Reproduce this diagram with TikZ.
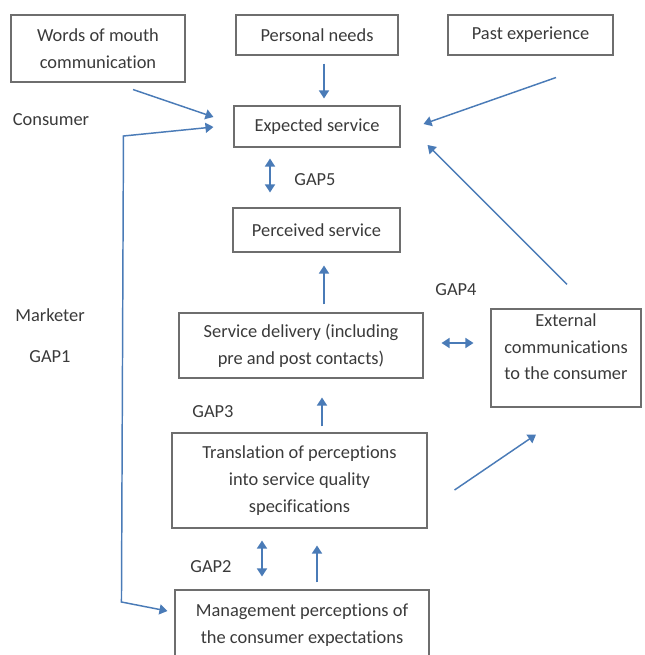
\documentclass[tikz,border=0pt]{standalone}
\usepackage{fontspec}
\setmainfont{Carlito}[Ligatures=NoCommon]
\usepackage{tikz}
\usetikzlibrary{arrows.meta}
\definecolor{arrowblue}{HTML}{4A7BB7}
\definecolor{boxgray}{HTML}{6E6E6E}
\definecolor{inkgray}{HTML}{3A3A3A}

\begin{document}
\begin{tikzpicture}[x=0.75pt, y=-0.75pt, >={Triangle[length=6pt,width=7.5pt]},
  every node/.style={font=\fontsize{13.8}{20}\selectfont},
  gapbox/.style={draw=boxgray, line width=0.8pt, text=inkgray, align=center, inner sep=0pt},
  tag/.style={text=inkgray, inner sep=0pt, align=center},
  flow/.style={->, arrowblue, line width=1.1pt}]
  \useasboundingbox (0,0) rectangle (644,655);
  \clip (0,0) rectangle (644,655);

  % boxes
  \node[gapbox, minimum width=130.5pt, minimum height=50.25pt] (wom) at (98,48.5) {Words of mouth\\communication};
  \node[gapbox, minimum width=121.5pt, minimum height=30pt] (needs) at (317,35) {Personal needs};
  \node[gapbox, minimum width=123.75pt, minimum height=30pt] (past) at (530.5,35) {Past experience};
  \node[gapbox, minimum width=124.5pt, minimum height=30.75pt] (expected) at (317,126.5) {Expected service};
  \node[gapbox, minimum width=125.25pt, minimum height=33pt] (perceived) at (316.5,230) {Perceived service};
  \node[gapbox, minimum width=183pt, minimum height=48.75pt] (delivery) at (301,345.5) {Service delivery (including\\pre and post contacts)};
  \node[gapbox, minimum width=112.5pt, minimum height=73.5pt] (extcom) at (566,358) {};
  \node[tag] (extcomtext) at (566,347) {External\\communications\\to the consumer};
  \node[gapbox, minimum width=191.25pt, minimum height=71.25pt] (transl) at (299.5,480.5) {Translation of perceptions\\into service quality\\specifications};
  \node[gapbox, minimum width=190.5pt, minimum height=52.5pt] (mgmt) at (302,625) {Management perceptions of\\the consumer expectations};

  % side labels and gaps
  \node[tag] (consumer) at (51,120) {Consumer};
  \node[tag] (marketer) at (50,315) {Marketer};
  \node[tag] (gap1) at (50,357) {GAP1};
  \node[tag] (gap5) at (315,180) {GAP5};
  \node[tag] (gap4) at (456,290) {GAP4};
  \node[tag] (gap3) at (213,412) {GAP3};
  \node[tag] (gap2) at (211,567) {GAP2};

  % arrows
  \draw[flow] ([shift={(7,8)}]needs.south) -- ([shift={(7,-7)}]expected.north);
  \draw[flow] ([shift={(35,7)}]wom.south) -- ([shift={(-20,-9.5)}]expected.west);
  \draw[flow] ([shift={(25.5,22)}]past.south) -- ([shift={(23,-2.5)}]expected.east);
  \draw[flow, <->] ([shift={(-20,0.5)}]expected.west) -- ++(-90,9) -- ++(-2,466) -- ([shift={(-7,-14)}]mgmt.west);
  \draw[flow, <->] ([shift={(-47,11)}]expected.south) -- ([shift={(-46.5,-15)}]perceived.north);
  \draw[flow] ([shift={(23,-8)}]delivery.north) -- ([shift={(7.5,13)}]perceived.south);
  \draw[flow] ([shift={(1,-24)}]extcom.north) -- ([shift={(27,18.5)}]expected.east);
  \draw[flow, <->] ([shift={(18,-2.5)}]delivery.east) -- ([shift={(-17,-15)}]extcom.west);
  \draw[flow] ([shift={(22.5,-6)}]transl.north) -- ([shift={(21,19)}]delivery.south);
  \draw[flow] ([shift={(27,9.5)}]transl.east) -- ([shift={(-30,27)}]extcom.south);
  \draw[flow, <->] ([shift={(-37.5,12)}]transl.south) -- ([shift={(-40,-13)}]mgmt.north);
  \draw[flow] ([shift={(15,-7)}]mgmt.north) -- ([shift={(17.5,17)}]transl.south);
\end{tikzpicture}
\end{document}
